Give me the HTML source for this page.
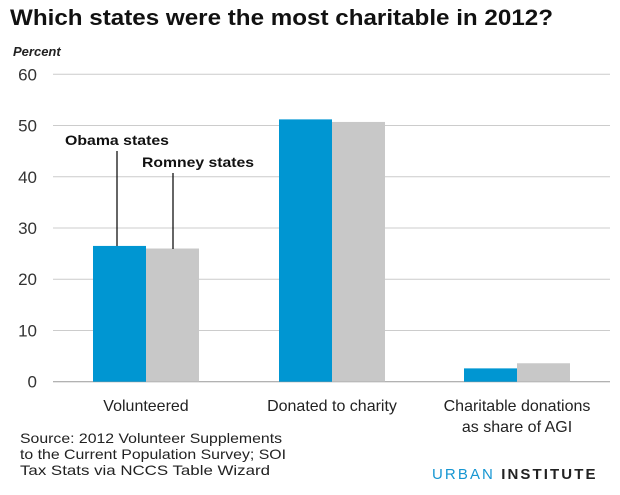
<!DOCTYPE html>
<html><head><meta charset="utf-8"><style>
body{margin:0;background:#fff;}
svg{display:block;font-family:"Liberation Sans",sans-serif;}
</style></head><body>
<svg id="chart" width="620" height="495">
<text x="10" y="25" font-size="22" font-weight="bold" fill="#111" textLength="543" lengthAdjust="spacingAndGlyphs">Which states were the most charitable in 2012?</text>
<text x="13" y="56" font-size="13" font-weight="bold" font-style="italic" fill="#222">Percent</text>
<g id="grid"></g><g id="bars"></g><g id="xlabels"></g>
<line x1="117" y1="151" x2="117" y2="246" stroke="#000" stroke-width="1.2"/>
<line x1="173" y1="173" x2="173" y2="249" stroke="#000" stroke-width="1.2"/>
<text x="65" y="145" font-size="14" font-weight="bold" fill="#111" textLength="104" lengthAdjust="spacingAndGlyphs">Obama states</text>
<text x="142" y="167" font-size="14" font-weight="bold" fill="#111" textLength="112" lengthAdjust="spacingAndGlyphs">Romney states</text>
<g font-size="14" fill="#222">
<text x="20" y="443" textLength="262" lengthAdjust="spacingAndGlyphs">Source: 2012 Volunteer Supplements</text>
<text x="20" y="459" textLength="266" lengthAdjust="spacingAndGlyphs">to the Current Population Survey; SOI</text>
<text x="20" y="475" textLength="250" lengthAdjust="spacingAndGlyphs">Tax Stats via NCCS Table Wizard</text>
</g>
<text x="432" y="479" font-size="15" letter-spacing="1.5" textLength="165"><tspan fill="#1696d2">URBAN</tspan><tspan fill="#222" font-weight="bold"> INSTITUTE</tspan></text>
</svg>
<script>
const categories=[["Volunteered"],["Donated to charity"],["Charitable donations","as share of AGI"]];
const obama=[26.5,51.2,2.6];
const romney=[26.0,50.7,3.6];
const ticks=[0,10,20,30,40,50,60];
const NS="http://www.w3.org/2000/svg";
const y0=381.7,y60=74.3,xL=53,xR=610;
const y=v=>y0-(v/60)*(y0-y60);
const groupStart=[93,279,464],barW=53;
const g=document.getElementById('grid'),b=document.getElementById('bars'),xl=document.getElementById('xlabels');
function mk(tag,at,parent){const e=document.createElementNS(NS,tag);for(const k in at)e.setAttribute(k,at[k]);parent.appendChild(e);return e;}
ticks.forEach(t=>{
 const l=mk('line',{x1:xL,x2:xR,y1:y(t),y2:y(t),stroke:t===0?'#999':'#ccc','stroke-width':1},g);
 
 
 const tx=mk('text',{x:37,y:y(t)+6,'text-anchor':'end','font-size':17,fill:'#333'},g);
 tx.textContent=t;
 
 
});
categories.forEach((c,i)=>{
 const x=groupStart[i];
 const r1=mk('rect',{x:x,y:y(obama[i]),width:barW,height:y0-y(obama[i]),fill:'#0096d2'},b);
 
 
 const r2=mk('rect',{x:x+barW,y:y(romney[i]),width:barW,height:y0-y(romney[i]),fill:'#c8c8c8'},b);
 
 
 c.forEach((line,j)=>{
  const t=mk('text',{x:x+barW,y:411+j*21,'text-anchor':'middle','font-size':16,fill:'#222'},xl);
  t.textContent=line;
  
  
 });
});
</script>
</body></html>
